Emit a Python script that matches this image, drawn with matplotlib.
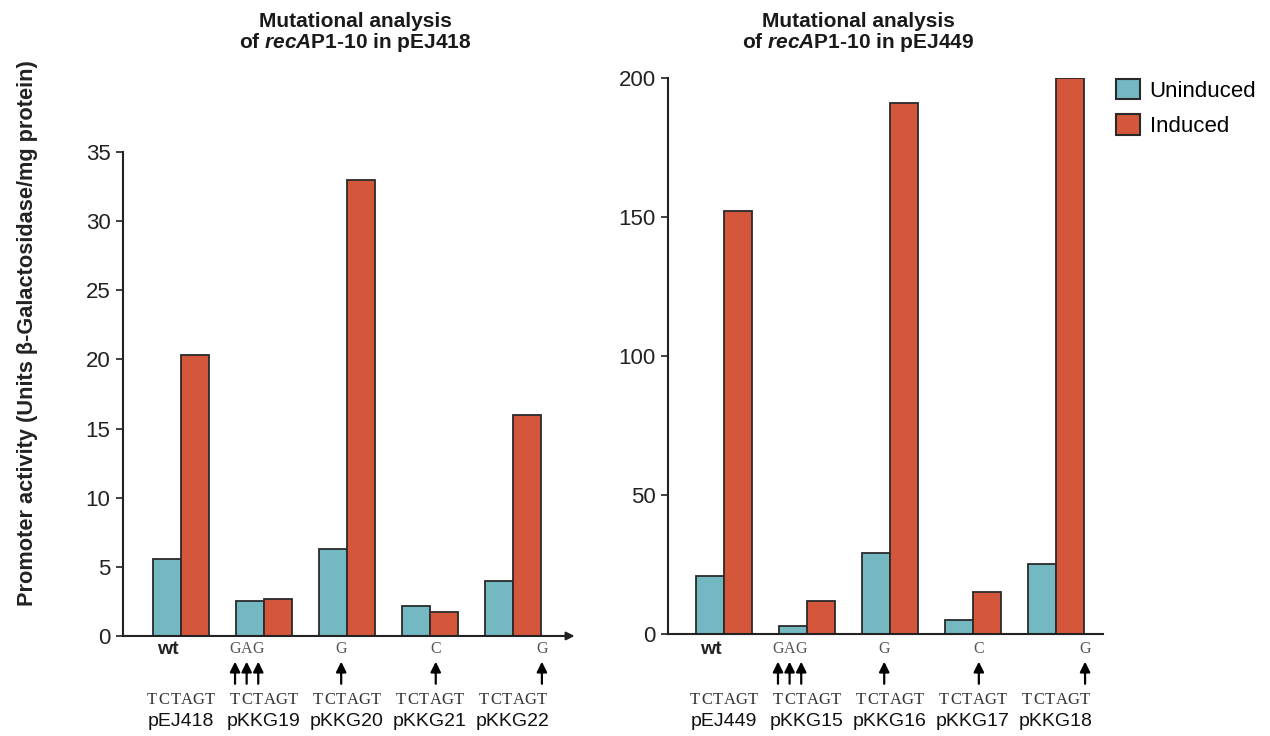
import numpy as np
import matplotlib
matplotlib.use('Agg')
import matplotlib.pyplot as plt
import matplotlib.transforms as mtransforms
from matplotlib.patches import Patch

plt.rcParams['font.family'] = ['Liberation Sans', 'DejaVu Sans']
plt.rcParams['mathtext.fontset'] = 'custom'
plt.rcParams['mathtext.it'] = 'Liberation Sans:italic:bold'
plt.rcParams['mathtext.rm'] = 'Liberation Sans:bold'

# data
plasmids_left = ['pEJ418', 'pKKG19', 'pKKG20', 'pKKG21', 'pKKG22']
unind_left = [5.6, 2.5, 6.3, 2.2, 4.0]
ind_left = [20.3, 2.7, 33.0, 1.7, 16.0]

plasmids_right = ['pEJ449', 'pKKG15', 'pKKG16', 'pKKG17', 'pKKG18']
unind_right = [21, 3, 29, 5, 25]
ind_right = [152, 12, 191, 15, 200]

wt_seq = 'TCTAGT'
mut_idx = [[], [0, 1, 2], [2], [3], [5]]
mut_base = [[], ['G', 'A', 'G'], ['G'], ['C'], ['G']]

c_unind = '#74b9c1'
c_ind = '#d5573b'
edge = '#2a2a2a'

fig = plt.figure(figsize=(12.7, 7.36), dpi=100)
ax1 = fig.add_axes([0.0969, 0.1359, 0.352, 0.6576])
ax2 = fig.add_axes([0.526, 0.1386, 0.3425, 0.7554])

w = 0.337
cw = 0.14  # width of one base in the sequence labels


def draw_panel(ax, names, unind, ind, ymax, yticks, arrow):
    x = np.arange(len(names))
    ax.bar(x - w / 2, unind, w, color=c_unind, edgecolor=edge, linewidth=1.3)
    ax.bar(x + w / 2, ind, w, color=c_ind, edgecolor=edge, linewidth=1.3)
    ax.set_ylim(0, ymax)
    ax.set_yticks(yticks)
    ax.set_xticks([])
    ax.tick_params(axis='y', labelsize=16, length=5, width=1.3, color='#333333',
                   labelcolor='#222222', pad=4)
    for s in ['top', 'right']:
        ax.spines[s].set_visible(False)
    ax.spines['left'].set_linewidth(1.5)
    ax.spines['left'].set_color('#222222')
    if arrow:
        ax.spines['bottom'].set_visible(False)
        ax.annotate('', xy=(1.01, 0), xytext=(0, 0), xycoords='axes fraction',
                    arrowprops=dict(arrowstyle='-|>', color='#222222', lw=1.5,
                                    mutation_scale=12, shrinkA=0, shrinkB=0),
                    annotation_clip=False)
    else:
        ax.spines['bottom'].set_linewidth(1.5)
        ax.spines['bottom'].set_color('#222222')

    tr = mtransforms.blended_transform_factory(ax.transData, fig.transFigure)
    for i, name in enumerate(names):
        for k, ch in enumerate(wt_seq):
            ax.text(i + (k - 2.5) * cw, 0.049, ch, transform=tr, ha='center',
                    va='center', fontsize=12, family='Liberation Serif',
                    color='#333333')
        ax.text(i, 0.020, name, transform=tr, ha='center', va='center',
                fontsize=14, color='#111111')
        if i == 0:
            ax.text(i - 0.16, 0.118, 'wt', transform=tr, ha='center',
                    va='center', fontsize=14, fontweight='bold', color='#222222')
        for k, ch in zip(mut_idx[i], mut_base[i]):
            xp = i + (k - 2.5) * cw
            ax.text(xp, 0.118, ch, transform=tr, ha='center', va='center',
                    fontsize=11.5, family='Liberation Serif', color='#555555')
            ax.annotate('', xy=(xp, 0.101), xytext=(xp, 0.071), xycoords=tr,
                        textcoords=tr,
                        arrowprops=dict(arrowstyle='-|>', color='black', lw=1.6,
                                        mutation_scale=15, shrinkA=0, shrinkB=0),
                        annotation_clip=False)


draw_panel(ax1, plasmids_left, unind_left, ind_left, 35, range(0, 36, 5), True)
ax1.set_xlim(-0.70, 4.69)
draw_panel(ax2, plasmids_right, unind_right, ind_right, 200, range(0, 201, 50), False)
ax2.set_xlim(-0.675, 4.566)

titles = ['Mutational analysis\nof $\\it{recA}$P1-10 in pEJ418',
          'Mutational analysis\nof $\\it{recA}$P1-10 in pEJ449']
for xc, t in zip([0.280, 0.676], titles):
    fig.text(xc, 0.955, t, ha='center', va='center', fontsize=15,
             fontweight='bold', color='#1a1a1a', linespacing=1.0)

fig.text(0.022, 0.547, 'Promoter activity (Units β-Galactosidase/mg protein)',
         rotation=90, ha='center', va='center', fontsize=15.7,
         fontweight='bold', color='#222222')

handles = [Patch(facecolor=c_unind, edgecolor=edge, linewidth=1.5),
           Patch(facecolor=c_ind, edgecolor=edge, linewidth=1.5)]
fig.legend(handles, ['Uninduced', 'Induced'], loc='upper left',
           bbox_to_anchor=(0.872, 0.905), frameon=False, fontsize=16,
           handlelength=1.05, handleheight=1.05, handletextpad=0.45,
           labelspacing=0.55, borderaxespad=0)

fig.savefig('out.png', dpi=100)
